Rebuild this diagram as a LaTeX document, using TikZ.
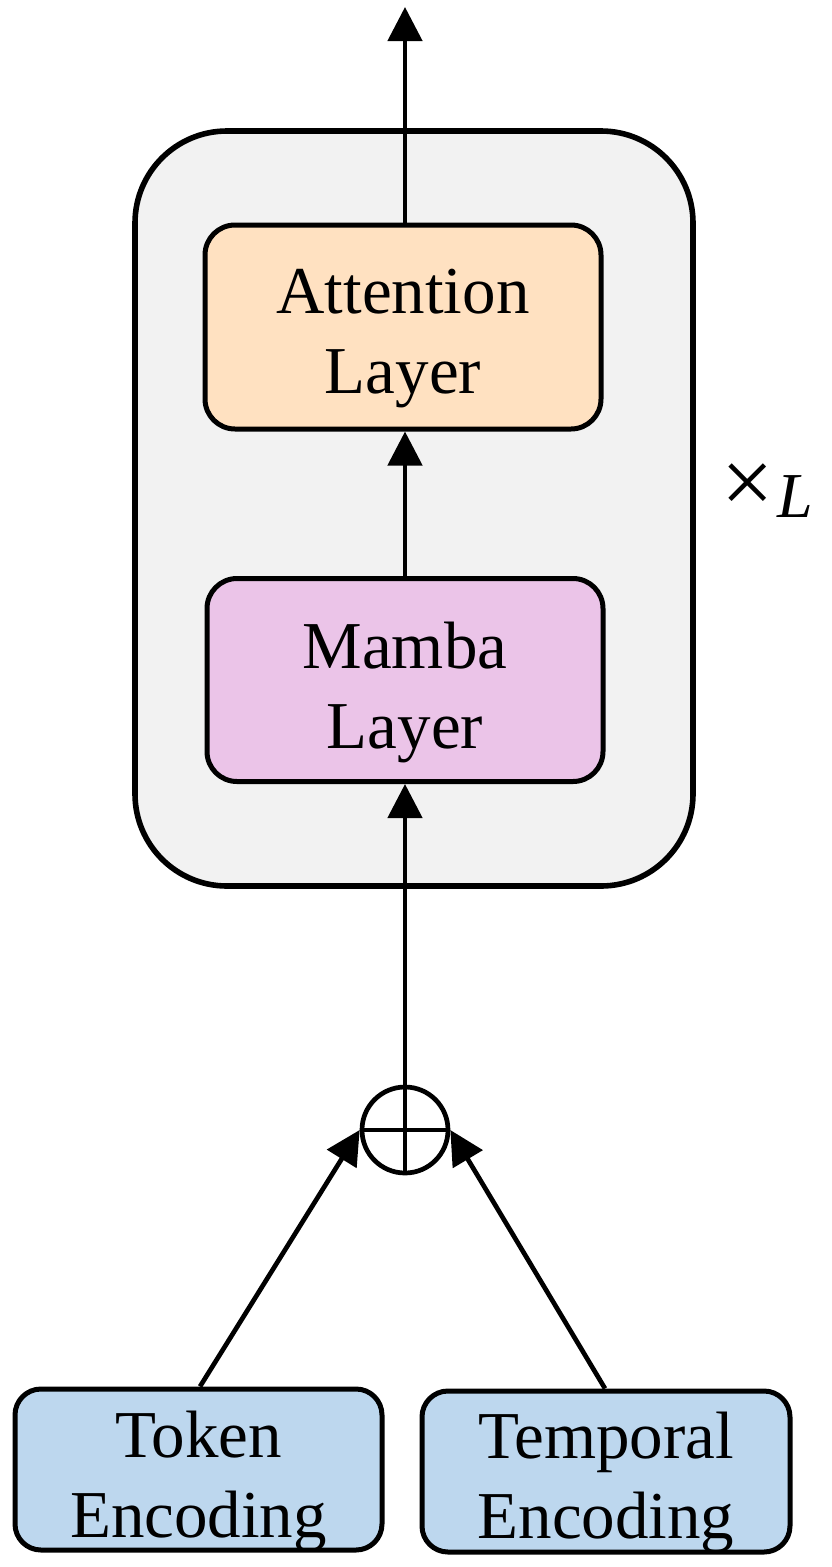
\documentclass[tikz,border=0pt]{standalone}
\usepackage{fontspec}
\usepackage{graphicx}
\setmainfont{Liberation Serif}
\usetikzlibrary{arrows.meta}
\definecolor{outerfill}{HTML}{F2F2F2}
\definecolor{attfill}{HTML}{FFE1C1}
\definecolor{mambafill}{HTML}{EBC4E8}
\definecolor{encfill}{HTML}{BDD7EE}
\begin{document}
\begin{tikzpicture}[x=1pt,y=-1pt,
  layerbox/.style={draw=black, line width=5pt, rounded corners=30pt, inner sep=0pt},
  encbox/.style={draw=black, line width=5pt, rounded corners=26pt, inner sep=0pt},
  lbl/.style={align=center, inner sep=0pt, font=\fontsize{67pt}{80pt}\selectfont},
  conn/.style={line width=4.7pt, -{Triangle[width=34pt,length=34pt]}},
  plain/.style={line width=4.7pt}
]
\useasboundingbox (0,0) rectangle (832,1567);
% outer block
\node[draw=black, fill=outerfill, line width=5.6pt, rounded corners=92pt, inner sep=0pt,
      minimum width=558pt, minimum height=755pt] (outer) at (414,508.5) {};
% attention layer
\node[layerbox, fill=attfill, minimum width=396pt, minimum height=204pt] (att) at (403,327) {};
\node[lbl] (attT) at (403,339) {Attention\\Layer};
% mamba layer
\node[layerbox, fill=mambafill, minimum width=396pt, minimum height=203pt] (mamba) at (405,680) {};
\node[lbl] (mambaT) at (405,692) {Mamba\\Layer};
% encodings
\node[encbox, fill=encfill, minimum width=367pt, minimum height=161pt] (tok) at (198.5,1469.5) {};
\node[lbl] (tokT) at (198.5,1481) {Token\\Encoding};
\node[encbox, fill=encfill, minimum width=368pt, minimum height=161pt] (tmp) at (606,1471.5) {};
\node[lbl] (tmpT) at (606,1482) {Temporal\\Encoding};
% sum
\node[draw=black, line width=4.7pt, circle, minimum size=86pt, inner sep=0pt] (sum) at (405,1130) {};
\draw[plain] (sum.north) -- (sum.south);
\draw[plain] (sum.west) -- (sum.east);
% times L
\node[anchor=base, inner sep=0pt, font=\fontsize{64pt}{80pt}\selectfont] (rep) at (767,517) {\raisebox{4pt}{\scalebox{1.45}{×}}\kern4pt\textit{L}};
% connectors
\coordinate (out) at (405,7);
\draw[conn] (att.north -| out) -- (out);
\draw[conn] (mamba.north -| out) -- (att.south -| out);
\draw[conn] (sum.north) -- (mamba.south -| sum);
\draw[conn] (tok.north) ++(1.5,0) -- (sum.west);
\draw[conn] (tmp.north) ++(-1,0) -- (sum.east);
\end{tikzpicture}
\end{document}
